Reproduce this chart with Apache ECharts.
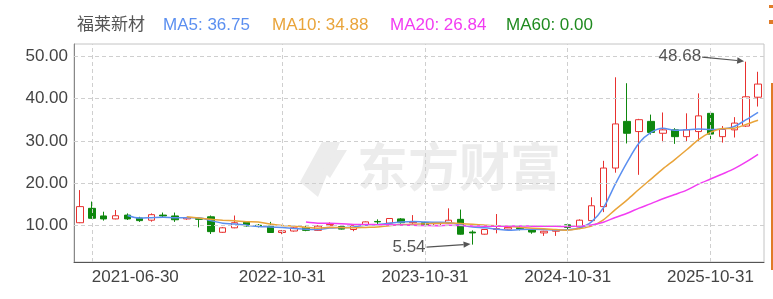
<!DOCTYPE html>
<html><head><meta charset="utf-8">
<script src="https://cdn.jsdelivr.net/npm/echarts@6/dist/echarts.min.js"></script>
<style>html,body{margin:0;padding:0;background:#fff}#c{width:773px;height:299px}</style>
</head><body><div id="c"></div>
<script>
const stockName = '福莱新材';
const categories = [
 '2021-05-31','2021-06-30','2021-07-30','2021-08-31','2021-09-30','2021-10-29','2021-11-30','2021-12-31',
 '2022-01-28','2022-02-28','2022-03-31','2022-04-29','2022-05-31','2022-06-30','2022-07-29','2022-08-31','2022-09-30','2022-10-31','2022-11-30','2022-12-30',
 '2023-01-31','2023-02-28','2023-03-31','2023-04-28','2023-05-31','2023-06-30','2023-07-31','2023-08-31','2023-09-28','2023-10-31','2023-11-30','2023-12-29',
 '2024-01-31','2024-02-29','2024-03-29','2024-04-30','2024-05-31','2024-06-28','2024-07-31','2024-08-30','2024-09-30','2024-10-31','2024-11-29','2024-12-31',
 '2025-01-27','2025-02-28','2025-03-31','2025-04-30','2025-05-30','2025-06-30','2025-07-31','2025-08-29','2025-09-30','2025-10-31','2025-11-28','2025-12-31',
 '2026-01-30','2026-02-27'
];
const openV  = [10.7,14.1,12.3,11.6,12.5,11.8,11.3,12.5,12.3,11.6,11.7,12.1,8.45,9.5,10.8,10.1,9.9,8.4,8.75,9.6,
 8.9,10.0,9.8,9.1,10.2,11.0,10.6,11.6,10.7,10.7,10.1,10.6,11.5,8.5,8.0,9.1,9.2,9.5,9.0,8.3,8.7,10.2,9.7,11.2,
 14.5,23.6,34.6,32.2,34.6,31.8,32.6,31.0,32.2,36.5,31.0,32.6,33.5,40.3];
const closeV = [14.5,11.75,11.6,12.35,11.6,11.2,12.6,12.3,11.4,11.9,11.5,8.6,9.5,10.7,9.95,9.95,8.4,8.8,9.5,8.9,
 9.9,10.3,9.2,10.1,10.9,10.9,11.7,10.7,10.9,10.1,10.7,11.3,8.0,8.3,9.1,9.3,9.6,9.3,8.5,8.7,9.0,9.6,11.3,14.7,
 23.6,34.0,31.8,35.0,32.0,32.6,31.0,32.6,35.9,31.6,32.7,34.2,40.4,43.4];
const lowV   = [10.6,11.6,11.2,11.5,11.35,10.9,10.95,12.0,10.9,11.4,9.6,8.05,8.3,9.4,9.8,9.6,8.3,8.0,8.6,8.7,
 8.8,9.9,9.1,8.7,10.1,10.4,10.5,10.5,10.3,9.9,10.0,10.5,7.9,5.54,7.9,8.2,9.1,8.9,8.1,7.6,7.6,8.9,9.6,11.0,
 13.2,22.5,29.4,22.0,31.5,29.7,29.3,29.8,29.8,29.8,29.6,30.8,33.3,38.1];
const highV  = [18.4,15.7,13.3,13.7,12.9,12.1,12.9,13.1,13.1,12.1,11.8,12.4,9.7,12.4,11.0,10.4,10.9,9.0,9.7,10.0,
 10.1,10.8,9.9,10.2,11.0,11.5,11.8,11.8,12.5,10.9,10.8,14.1,13.8,8.9,9.2,12.75,9.7,9.9,9.1,8.8,9.1,10.4,11.5,16.7,
 25.3,45.0,43.6,35.2,36.2,36.7,33.0,36.5,41.2,36.6,33.5,35.6,48.68,46.3];
const ma5 = [null,null,null,null,12.4,11.8,11.9,12.0,11.9,11.9,11.9,11.2,10.6,10.4,10.1,9.8,9.7,9.55,9.35,9.15,
 9.1,9.45,9.55,9.7,10.1,10.3,10.55,10.85,11.0,10.85,10.8,10.75,10.2,9.7,9.5,9.2,8.9,9.1,9.15,9.1,9.0,9.05,9.45,10.9,
 14.2,19.8,25.0,29.5,32.0,33.0,32.5,32.6,32.8,32.7,32.8,33.4,35.0,36.75];
const ma10 = [null,null,null,null,null,null,null,null,null,12.1,11.8,11.5,11.3,11.15,10.95,10.85,10.4,10.05,9.9,9.6,
 9.4,9.6,9.55,9.5,9.6,9.7,10.0,10.2,10.35,10.45,10.55,10.65,10.5,10.35,10.15,10.0,9.8,9.65,9.4,9.3,9.1,8.95,9.3,9.9,
 11.4,13.8,16.1,18.6,21.0,23.4,25.6,27.9,30.3,32.0,32.9,33.0,33.9,34.88];
const ma20 = [null,null,null,null,null,null,null,null,null,null,null,null,null,null,null,null,null,null,null,10.85,
 10.6,10.55,10.45,10.3,10.3,10.25,10.2,10.15,10.1,10.05,10.0,10.1,10.05,9.95,9.9,9.85,9.9,9.95,9.9,9.85,9.85,9.8,9.9,10.15,
 10.8,11.95,12.95,14.15,15.2,16.35,17.35,18.4,19.8,21.0,22.2,23.45,25.05,26.84];
const ma60 = [];
const yTicks = [10,20,30,40,50];
const xTickLabels = ['2021-06-30','2022-10-31','2023-10-31','2024-10-31','2025-10-31'];

const UP='#e8312f', DOWN='#0e870e';
const C5='#5b8ff0', C10='#e9a43a', C20='#f23cf2', C60='#1f8a1f';
const FONT='"Liberation Sans", Arial, "Noto Sans CJK SC", sans-serif';
const last = a => { for (let i=a.length-1;i>=0;i--) if (a[i]!=null) return a[i]; return 0; };

const kData = categories.map((c,i)=>[openV[i],closeV[i],lowV[i],highV[i]]);
const chart = echarts.init(document.getElementById('c'), null, {renderer:'canvas'});
const option = {
  animation:false,
  grid:{left:74, right:9, top:44, bottom:37, show:true, borderColor:'#c4c4c4', borderWidth:1},
  xAxis:{type:'category', data:categories, boundaryGap:true,
    axisLine:{show:true, lineStyle:{color:'#555', width:1}}, axisTick:{show:false},
    axisLabel:{interval:(i,v)=>xTickLabels.includes(v), alignMinLabel:'left', color:'#444', fontSize:17, fontFamily:FONT, margin:7},
    splitLine:{show:false}},
  yAxis:{type:'value', min:1.44, max:52.85, scale:true,
    axisLine:{show:true, lineStyle:{color:'#888'}}, axisTick:{show:false}, splitLine:{show:false},
    axisLabel:{customValues:yTicks, formatter:v=>v.toFixed(2), color:'#444', fontSize:17, fontFamily:FONT, margin:6}},
  series:[
    {type:'line', data:[], z:1, silent:true,
     markLine:{silent:true, symbol:['none','none'], label:{show:false}, animation:false,
       lineStyle:{type:[4,3], color:'#cfcfcf', width:1},
       emphasis:{disabled:true},
       data:[...yTicks.map(v=>({yAxis:v})), ...xTickLabels.map(c=>({xAxis:c}))]}},
    {type:'candlestick', name:stockName, data:kData, barWidth:7, z:3,
     itemStyle:{color:'#ffffff', color0:DOWN, borderColor:UP, borderColor0:DOWN, borderWidth:1}},
    {type:'line', name:'MA5', data:ma5, smooth:0.3, showSymbol:false, z:4, lineStyle:{color:C5, width:1.5}},
    {type:'line', name:'MA10', data:ma10, smooth:0.3, showSymbol:false, z:4, lineStyle:{color:C10, width:1.5}},
    {type:'line', name:'MA20', data:ma20, smooth:0.3, showSymbol:false, z:4, lineStyle:{color:C20, width:1.5}},
    {type:'line', name:'MA60', data:ma60, smooth:0.3, showSymbol:false, z:4, lineStyle:{color:C60, width:1.5}}
  ]
};
chart.setOption(option);

const maxIdx = highV.indexOf(Math.max(...highV));
const minIdx = lowV.indexOf(Math.min(...lowV));
const pMax = chart.convertToPixel({xAxisIndex:0,yAxisIndex:0},[maxIdx, highV[maxIdx]]);
const pMin = chart.convertToPixel({xAxisIndex:0,yAxisIndex:0},[minIdx, lowV[minIdx]]);
function arrow(x1,y1,x2,y2){
  const ang=Math.atan2(y2-y1,x2-x1), L=7, W=3.2;
  const bx=x2-L*Math.cos(ang), by=y2-L*Math.sin(ang);
  const nx=-Math.sin(ang), ny=Math.cos(ang);
  return [
    {type:'line', z:100, shape:{x1,y1,x2:bx,y2:by}, style:{stroke:'#555', lineWidth:1.2}},
    {type:'polygon', z:100, shape:{points:[[x2,y2],[bx+nx*W,by+ny*W],[bx-nx*W,by-ny*W]]}, style:{fill:'#555'}}
  ];
}
const legendItems = [
  {t:stockName, x:77, c:'#555'},
  {t:'MA5: '+last(ma5).toFixed(2), x:163, c:C5},
  {t:'MA10: '+last(ma10).toFixed(2), x:272, c:C10},
  {t:'MA20: '+last(ma20).toFixed(2), x:390, c:C20},
  {t:'MA60: '+last(ma60).toFixed(2), x:506, c:C60}
];
const g = [
  {type:'group', z:0, silent:true, children:[
    {type:'polygon', z:0, shape:{points:[[322,142],[340,142],[318,197],[300,182]]}, style:{fill:'#ececec'}},
    {type:'polygon', z:0, shape:{points:[[336,150],[347,150],[330,178],[322,170]]}, style:{fill:'#ececec'}},
    {type:'text', z:0, x:357, y:167, style:{text:'东方财富', font:'bold 51px "Noto Sans CJK SC", sans-serif', fill:'#ececec', verticalAlign:'middle', align:'left'}}
  ]},
  ...legendItems.map(it=>({type:'text', z:100, x:it.x, y:25, style:{text:it.t, fill:it.c, font:'17px '+FONT, verticalAlign:'middle', align:'left'}})),
  {type:'text', z:100, x:pMax[0]-45, y:pMax[1]-5, style:{text:highV[maxIdx].toFixed(2), fill:'#555', font:'17px '+FONT, align:'right', verticalAlign:'middle'}},
  ...arrow(pMax[0]-44, pMax[1]-4.5, pMax[0]-2, pMax[1]-0.5),
  {type:'text', z:100, x:pMin[0]-47, y:pMin[1]+2.5, style:{text:lowV[minIdx].toFixed(2), fill:'#555', font:'17px '+FONT, align:'right', verticalAlign:'middle'}},
  ...arrow(pMin[0]-46, pMin[1]+2.5, pMin[0]-2, pMin[1]-0.5),
  {type:'rect', z:100, shape:{x:771, y:83, width:2, height:187}, style:{fill:'#e07b28'}},
  {type:'rect', z:100, shape:{x:769, y:5, width:4, height:3}, style:{fill:'#e07b28'}},
  {type:'rect', z:100, shape:{x:769, y:20, width:4, height:4}, style:{fill:'#e07b28'}}
];
chart.setOption({graphic:g});
</script></body></html>
